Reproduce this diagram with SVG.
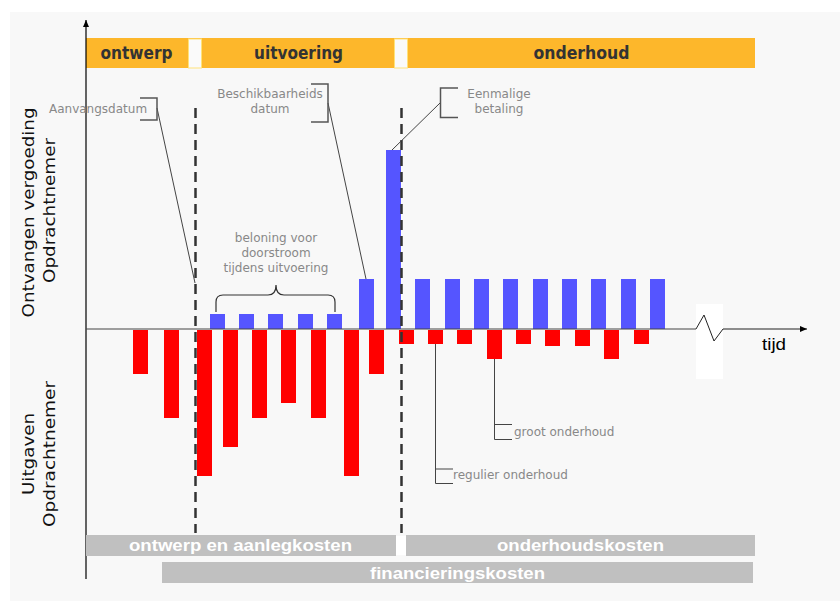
<svg xmlns="http://www.w3.org/2000/svg" width="840" height="603" viewBox="0 0 840 603">
<defs>
<style>
.ph{fill:#FDB72B}
.gap{fill:#FAFAFA;stroke:#FFE27A;stroke-width:1}
.pt{font-family:"DejaVu Sans",sans-serif;font-weight:bold;font-size:17px;fill:#333;text-anchor:middle}
.lbl{font-family:"DejaVu Sans",sans-serif;font-size:12px;fill:#888}
.mid{text-anchor:middle}
.ax{font-family:"DejaVu Sans",sans-serif;font-size:16px;fill:#111;text-anchor:middle}
.cb{fill:#C0C0C0}
.ct{font-family:"Liberation Sans",Arial,sans-serif;font-weight:bold;font-size:16px;fill:#fff;text-anchor:middle}
.red{fill:#FF0000}
.blue{fill:#5555FF}
.dash{stroke:#333;stroke-width:2.5;stroke-dasharray:10 6;fill:none}
.lead{stroke:#444;stroke-width:1;fill:none}
.brk{stroke:#555;stroke-width:1.5;fill:none}
</style>
<marker id="arr" markerWidth="8" markerHeight="8" refX="7" refY="4" orient="auto" markerUnits="userSpaceOnUse">
<path d="M0,1 L7,4 L0,7 Z" fill="#000"/>
</marker>
</defs>
<rect x="10" y="12" width="830" height="589" fill="#F8F8F8"/>

<g id="phases">
<rect class="ph" x="86" y="38" width="669" height="30"/>
<rect class="gap" x="188.5" y="39" width="13" height="29"/>
<rect class="gap" x="394.5" y="39" width="13" height="29"/>
<text class="pt" x="136.5" y="59" textLength="72" lengthAdjust="spacingAndGlyphs">ontwerp</text>
<text class="pt" x="298.5" y="59" textLength="89" lengthAdjust="spacingAndGlyphs">uitvoering</text>
<text class="pt" x="581.5" y="59" textLength="96" lengthAdjust="spacingAndGlyphs">onderhoud</text>
</g>

<g id="axis-labels">
<text class="ax" transform="translate(34,212.5) rotate(-90)" textLength="210" lengthAdjust="spacingAndGlyphs">Ontvangen vergoeding</text>
<text class="ax" transform="translate(55,210.5) rotate(-90)" textLength="145" lengthAdjust="spacingAndGlyphs">Opdrachtnemer</text>
<text class="ax" transform="translate(34,454) rotate(-90)" textLength="82" lengthAdjust="spacingAndGlyphs">Uitgaven</text>
<text class="ax" transform="translate(55,454) rotate(-90)" textLength="146" lengthAdjust="spacingAndGlyphs">Opdrachtnemer</text>
</g>

<g id="bars-expenses">
<rect class="red" x="133" y="330" width="15" height="44"/>
<rect class="red" x="164" y="330" width="15" height="88"/>
<rect class="red" x="197" y="330" width="15" height="146"/>
<rect class="red" x="223" y="330" width="15" height="117"/>
<rect class="red" x="252" y="330" width="15" height="88"/>
<rect class="red" x="281" y="330" width="15" height="73"/>
<rect class="red" x="311" y="330" width="15" height="88"/>
<rect class="red" x="344" y="330" width="15" height="146"/>
<rect class="red" x="369" y="330" width="15" height="44"/>
<rect class="red" x="399" y="330" width="15" height="14"/>
<rect class="red" x="428" y="330" width="15" height="14"/>
<rect class="red" x="457" y="330" width="15" height="14"/>
<rect class="red" x="487" y="330" width="15" height="29"/>
<rect class="red" x="516" y="330" width="15" height="14"/>
<rect class="red" x="545" y="330" width="15" height="16"/>
<rect class="red" x="575" y="330" width="15" height="16"/>
<rect class="red" x="604" y="330" width="15" height="29"/>
<rect class="red" x="634" y="330" width="15" height="14"/>
</g>

<g id="bars-income">
<rect class="blue" x="210" y="314" width="15" height="15"/>
<rect class="blue" x="239" y="314" width="15" height="15"/>
<rect class="blue" x="268" y="314" width="15" height="15"/>
<rect class="blue" x="298" y="314" width="15" height="15"/>
<rect class="blue" x="327" y="314" width="15" height="15"/>
<rect class="blue" x="359" y="279" width="15" height="50"/>
<rect class="blue" x="386" y="150" width="15" height="179"/>
<rect class="blue" x="415" y="279" width="15" height="50"/>
<rect class="blue" x="445" y="279" width="15" height="50"/>
<rect class="blue" x="474" y="279" width="15" height="50"/>
<rect class="blue" x="503" y="279" width="15" height="50"/>
<rect class="blue" x="533" y="279" width="15" height="50"/>
<rect class="blue" x="562" y="279" width="15" height="50"/>
<rect class="blue" x="591" y="279" width="15" height="50"/>
<rect class="blue" x="621" y="279" width="15" height="50"/>
<rect class="blue" x="650" y="279" width="15" height="50"/>
</g>

<g id="axes">
<line x1="86" y1="579" x2="86" y2="20" stroke="#000" stroke-width="1.2" marker-end="url(#arr)"/>
<line x1="86" y1="329" x2="697" y2="329" stroke="#444" stroke-width="1"/>
<rect x="696" y="304" width="27" height="75" fill="#FFFFFF"/>
<polyline points="696,329 704,315 714,341 723,329" fill="none" stroke="#222" stroke-width="1"/>
<line x1="723" y1="329" x2="807" y2="329" stroke="#222" stroke-width="1" marker-end="url(#arr)"/>
<text x="762" y="350" font-family="Liberation Sans, Arial, sans-serif" font-size="17" fill="#000" textLength="24" lengthAdjust="spacingAndGlyphs">tijd</text>
</g>

<g id="connectors">
<line class="dash" x1="195.5" y1="108" x2="195.5" y2="533"/>
<line class="dash" x1="401.5" y1="108" x2="401.5" y2="533"/>
<line class="lead" x1="157" y1="108" x2="195" y2="283"/>
<line class="lead" x1="328" y1="103" x2="366" y2="279"/>
<line class="lead" x1="440" y1="103" x2="392" y2="150"/>
<path class="lead" d="M435.5,344 V483.5 H453"/>
<path class="lead" d="M436,469 H453"/>
<path class="lead" d="M494.5,359 V439.5 H512" stroke="#777"/>
<path class="lead" d="M494.5,424.5 H512"/>
</g>

<g id="label-aanvangsdatum">
<path class="brk" d="M140,98 H157 V120 H140"/>
<text class="lbl" x="49" y="112.5">Aanvangsdatum</text>
</g>

<g id="label-beschikbaarheidsdatum">
<path class="brk" d="M311,84 H328 V122 H311"/>
<text class="lbl mid" x="270" y="98">Beschikbaarheids</text>
<text class="lbl mid" x="270" y="113">datum</text>
</g>

<g id="label-eenmalige-betaling">
<path class="brk" d="M458,88 H440.5 V117.5 H458"/>
<text class="lbl mid" x="499" y="98">Eenmalige</text>
<text class="lbl mid" x="499" y="113">betaling</text>
</g>

<g id="label-beloning">
<path d="M216,312 V302 Q216,295 223,295 H268 Q276,295 276,285 Q276,295 284,295 H328 Q335,295 335,302 V312" fill="none" stroke="#333" stroke-width="1.2"/>
<text class="lbl mid" x="276" y="242">beloning voor</text>
<text class="lbl mid" x="276" y="257">doorstroom</text>
<text class="lbl mid" x="276" y="272">tijdens uitvoering</text>
</g>

<g id="label-groot-onderhoud">
<text class="lbl" x="514" y="435.5">groot onderhoud</text>
</g>

<g id="label-regulier-onderhoud">
<text class="lbl" x="453" y="479">regulier onderhoud</text>
</g>

<g id="costs">
<rect class="cb" x="86" y="535" width="310" height="21"/>
<rect x="396" y="536" width="10" height="19" fill="#FFFFFF"/>
<rect class="cb" x="406" y="535" width="349" height="21"/>
<rect class="cb" x="162" y="562" width="591" height="21"/>
<text class="ct" x="240.5" y="551" textLength="223" lengthAdjust="spacingAndGlyphs">ontwerp en aanlegkosten</text>
<text class="ct" x="580.5" y="551" textLength="167" lengthAdjust="spacingAndGlyphs">onderhoudskosten</text>
<text class="ct" x="457.5" y="578.5" textLength="175" lengthAdjust="spacingAndGlyphs">financieringskosten</text>
</g>
</svg>
